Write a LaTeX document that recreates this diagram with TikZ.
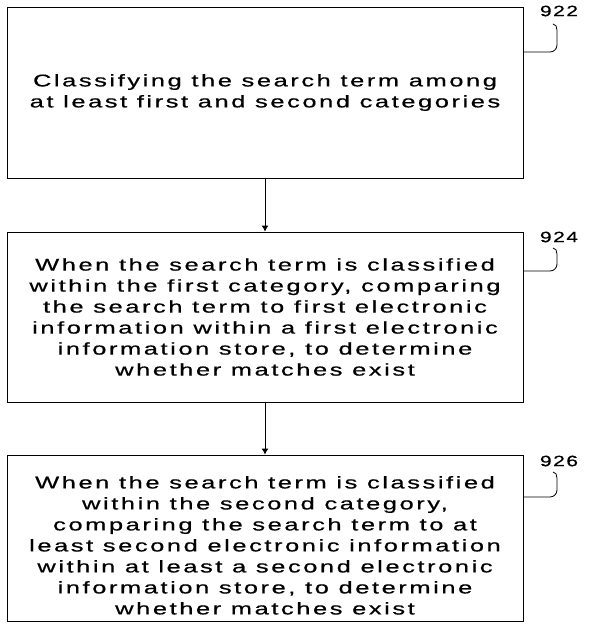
\documentclass[tikz,border=0pt]{standalone}
\usepackage{fontspec}
\setmainfont{Liberation Sans}
\newfontfamily\boxfont[FakeStretch=1.5,LetterSpace=15,FakeBold=0.6]{Liberation Sans}
\newfontfamily\reffont[FakeStretch=1.4,LetterSpace=10,FakeBold=0.6]{Liberation Sans}
\usetikzlibrary{arrows.meta, positioning}

\tikzset{
  stepbox/.style={draw, line width=0.9pt, minimum width=516pt, inner sep=0pt,
    align=center, font=\boxfont\fontsize{17}{21}\selectfont},
  flow/.style={line width=0.9pt, -{Latex[length=6pt,width=7pt]}},
  hook/.style={line width=0.8pt},
  reflabel/.style={font=\reffont\fontsize{15}{17}\selectfont}
}

\begin{document}
\begin{tikzpicture}[x=1pt, y=-1pt]
  \useasboundingbox (0,0) rectangle (589,624);
  % Step boxes
  \node[stepbox, minimum height=171pt] (s922) at (265,92.5)
    {Classifying the search term among\\at least first and second categories};
  \node[stepbox, minimum height=170pt] (s924) at (265,317)
    {When the search term is classified\\within the first category, comparing\\the search term to first electronic\\information within a first electronic\\information store, to determine\\whether matches exist};
  \node[stepbox, minimum height=166pt] (s926) at (265,538)
    {\mbox{}\\[6pt]When the search term is classified\\within the second category,\\comparing the search term to at\\least second electronic information\\within at least a second electronic\\information store, to determine\\whether matches exist};
  % Flow arrows
  \draw[flow] (s922) -- (s924);
  \draw[flow] (s924) -- (s926);
  % Reference numerals
  \node[reflabel] (n922) at (559,11) {922};
  \node[reflabel] (n924) at (559,237) {924};
  \node[reflabel] (n926) at (559,461) {926};
  \draw[hook] (s922.east |- 0,52) -- (550,52) to[out=0,in=-90] (557,45)
    -- (557,30) to[out=90,in=0] (553,24);
  \draw[hook] (s924.east |- 0,271) -- (550,271) to[out=0,in=-90] (557,264)
    -- (557,254) to[out=90,in=0] (553,248);
  \draw[hook] (s926.east |- 0,497) -- (550,497) to[out=0,in=-90] (557,490)
    -- (557,478) to[out=90,in=0] (553,472);
\end{tikzpicture}
\end{document}
